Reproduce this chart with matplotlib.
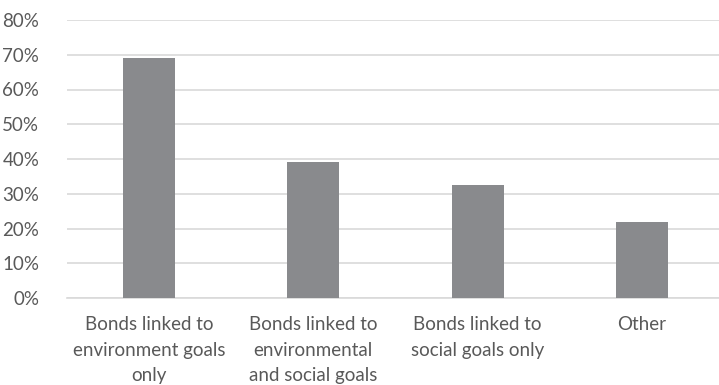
import matplotlib.pyplot as plt
from matplotlib.ticker import PercentFormatter

# Share of bonds by goal type
categories = [
    "Bonds linked to\nenvironment goals\nonly",
    "Bonds linked to\nenvironmental\nand social goals",
    "Bonds linked to\nsocial goals only",
    "Other",
]
shares = [0.69, 0.39, 0.326, 0.218]
y_ticks = [0.0, 0.1, 0.2, 0.3, 0.4, 0.5, 0.6, 0.7, 0.8]

plt.rcParams['font.family'] = ['Lato', 'DejaVu Sans']
text_color = '#595959'

fig = plt.figure(figsize=(7.19, 3.85), dpi=100)
ax = fig.add_axes([67 / 719, 87 / 385, 657 / 719, 278 / 385])

x = range(len(categories))
ax.bar(x, shares, width=0.316, color='#898A8D', zorder=3)

ax.set_ylim(0, 0.8)
ax.set_xlim(-0.5, len(categories) - 0.5)
ax.set_yticks(y_ticks)
ax.yaxis.set_major_formatter(PercentFormatter(1.0, decimals=0))
ax.set_xticks(list(x))
ax.set_xticklabels(categories, linespacing=1.62)

ax.grid(axis='y', color='#D9D9D9', linewidth=1.2, zorder=0)
for side in ['top', 'right', 'left']:
    ax.spines[side].set_visible(False)
ax.spines['bottom'].set_color('#D9D9D9')
ax.spines['bottom'].set_linewidth(1.2)

ax.tick_params(axis='y', length=0, pad=20, labelsize=13.5, labelcolor=text_color)
ax.tick_params(axis='x', length=0, pad=13, labelsize=13.5, labelcolor=text_color)

fig.savefig('out.png', dpi=100)
